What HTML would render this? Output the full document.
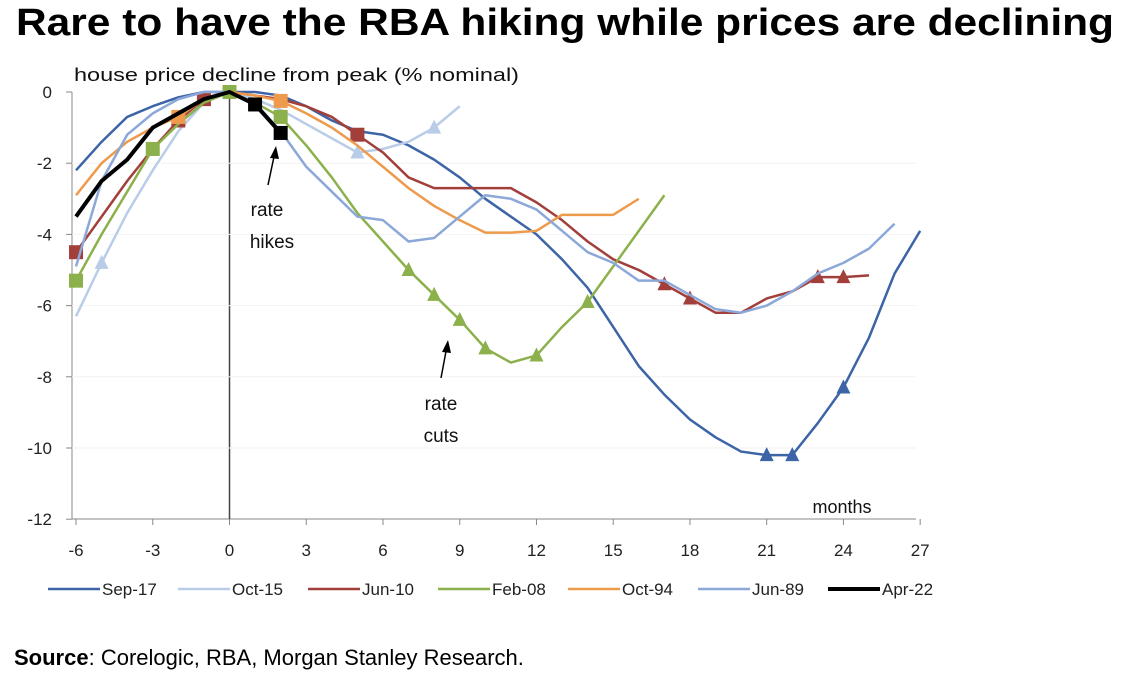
<!DOCTYPE html>
<html><head><meta charset="utf-8"><style>
body{margin:0;background:#fff;width:1136px;height:686px;overflow:hidden;font-family:"Liberation Sans",sans-serif}
#title{position:absolute;left:16px;top:2px;font-size:38px;font-weight:bold;color:#000;white-space:nowrap;transform-origin:0 0}
#src{position:absolute;left:14px;top:645px;font-size:22px;color:#000}
svg{position:absolute;left:0;top:0}
</style></head><body>
<div id="title">Rare to have the RBA hiking while prices are declining</div>
<div id="src"><b>Source</b>: Corelogic, RBA, Morgan Stanley Research.</div>
<svg id="c" width="1136" height="686"></svg>
<script>
const months=[-6,-5,-4,-3,-2,-1,0,1,2,3,4,5,6,7,8,9,10,11,12,13,14,15,16,17,18,19,20,21,22,23,24,25,26,27];
const xTicks=[-6,-3,0,3,6,9,12,15,18,21,24,27];
const yTicks=[0,-2,-4,-6,-8,-10,-12];
const sep17=[-2.2,-1.4,-0.7,-0.4,-0.15,0,0,0,-0.1,-0.4,-0.8,-1.1,-1.2,-1.5,-1.9,-2.4,-3.0,-3.5,-4.0,-4.7,-5.5,-6.6,-7.7,-8.5,-9.2,-9.7,-10.1,-10.2,-10.2,-9.3,-8.3,-6.9,-5.1,-3.9];
const oct15=[-6.3,-4.8,-3.4,-2.2,-1.1,-0.3,0,-0.2,-0.5,-0.9,-1.3,-1.7,-1.6,-1.4,-1.0,-0.4];
const jun10=[-4.5,-3.5,-2.5,-1.6,-0.8,-0.2,0,-0.1,-0.2,-0.4,-0.7,-1.2,-1.7,-2.4,-2.7,-2.7,-2.7,-2.7,-3.1,-3.6,-4.2,-4.7,-5.0,-5.4,-5.8,-6.2,-6.2,-5.8,-5.6,-5.2,-5.2,-5.15];
const feb08=[-5.3,-4.0,-2.8,-1.6,-0.9,-0.3,0,-0.3,-0.7,-1.5,-2.4,-3.4,-4.2,-5.0,-5.7,-6.4,-7.2,-7.6,-7.4,-6.6,-5.9,-4.9,-3.9,-2.9];
const oct94=[-2.9,-2.0,-1.4,-1.0,-0.7,-0.2,0,-0.1,-0.25,-0.6,-1.0,-1.5,-2.1,-2.7,-3.2,-3.6,-3.95,-3.95,-3.9,-3.45,-3.45,-3.45,-3.0];
const jun89=[-4.9,-2.5,-1.2,-0.6,-0.2,0,0,-0.3,-1.1,-2.1,-2.8,-3.5,-3.6,-4.2,-4.1,-3.5,-2.9,-3.0,-3.3,-3.9,-4.5,-4.8,-5.3,-5.3,-5.7,-6.1,-6.2,-6.0,-5.6,-5.1,-4.8,-4.4,-3.7];
const apr22=[-3.5,-2.5,-1.9,-1.0,-0.6,-0.2,0,-0.35,-1.15];
const series=[
 {name:"Sep-17",data:sep17,color:"#3C64A6",w:2.5,mk:"tri",at:[21,22,24]},
 {name:"Oct-15",data:oct15,color:"#B9CCE8",w:2.5,mk:"tri",at:[-5,5,8]},
 {name:"Jun-10",data:jun10,color:"#A23F3B",w:2.5,mk:"sq",at:[-6,-2,-1,5],mk2:"tri",at2:[17,18,23,24]},
 {name:"Feb-08",data:feb08,color:"#8CB04B",w:2.5,mk:"sq",at:[-6,-3,0,2],mk2:"tri",at2:[7,8,9,10,12,14]},
 {name:"Oct-94",data:oct94,color:"#EE9A4D",w:2.5,mk:"sq",at:[-2,2]},
 {name:"Jun-89",data:jun89,color:"#8CA8D8",w:2.5},
 {name:"Apr-22",data:apr22,color:"#000000",w:4,mk:"sq",at:[1,2]}
];
const title=document.getElementById('title');
title.style.transform='scaleX('+(1098/title.getBoundingClientRect().width)+')';
const X=m=>229.5+25.58*m, Y=v=>92-35.6*v;
const svg=document.getElementById('c'),NS="http://www.w3.org/2000/svg";
function mk(t,a,p){const e=document.createElementNS(NS,t);for(const k in a)e.setAttribute(k,a[k]);(p||svg).appendChild(e);return e;}
const ax=mk('line',{x1:72,y1:92,x2:72,y2:519,stroke:'#888'});

const xa=mk('line',{x1:72,y1:519,x2:916,y2:519,stroke:'#888'});

const zl=mk('line',{x1:X(0),y1:92,x2:X(0),y2:519,stroke:'#444','stroke-width':1.5});

yTicks.forEach(v=>{mk('line',{x1:66,y1:Y(v),x2:72,y2:Y(v),stroke:'#888'});
 if(v<0&&v>-12)mk('line',{x1:72,y1:Y(v),x2:916,y2:Y(v),stroke:'#f2f2f2'});
 const t=mk('text',{x:52,y:Y(v)+6,'text-anchor':'end','font-size':17,fill:'#222'});t.textContent=v;
 });
xTicks.forEach(m=>{mk('line',{x1:X(m),y1:519,x2:X(m),y2:525,stroke:'#888'});
 const t=mk('text',{x:X(m),y:556,'text-anchor':'middle','font-size':17,fill:'#222'});t.textContent=m;
 });
function marker(type,x,y,c){if(type==='sq')return mk('rect',{x:x-7,y:y-7,width:14,height:14,fill:c});
 return mk('polygon',{points:`${x},${y-8} ${x-7},${y+6} ${x+7},${y+6}`,fill:c});}
series.forEach(s=>{
 const pts=s.data.map((v,i)=>X(months[i])+','+Y(v)).join(' ');
 const p=mk('polyline',{points:pts,fill:'none',stroke:s.color,'stroke-width':s.w,'stroke-linejoin':'round'});
 
 
 [[s.mk,s.at],[s.mk2,s.at2]].forEach(([t,a])=>{if(!t)return;a.forEach(m=>{
  const i=months.indexOf(m);const e=marker(t,X(m),Y(s.data[i]),s.color);
  
  });});
});
function txt(s,x,y,sz,name,anchor){const t=mk('text',{x:x,y:y,'font-size':sz,fill:'#111','text-anchor':anchor||'start'});t.textContent=s;
 return t;}
const yt=txt('house price decline from peak (% nominal)',74,81,18,'y-axis-title');
yt.setAttribute('textLength',445);yt.setAttribute('lengthAdjust','spacingAndGlyphs');
txt('months',842,513,18,'x-axis-title','middle');
txt('rate',267,216,19,'annotation-rate-hikes','middle');txt('hikes',272,248,19,'annotation-rate-hikes','middle');
txt('rate',441,410,19,'annotation-rate-cuts','middle');txt('cuts',441,442,19,'annotation-rate-cuts','middle');
mk('line',{x1:268,y1:185,x2:275,y2:152,stroke:'#000','stroke-width':1.5});
mk('polygon',{points:'276,146 270,158 279,159',fill:'#000'});
mk('line',{x1:441,y1:378,x2:447,y2:346,stroke:'#000','stroke-width':1.5});
mk('polygon',{points:'448,340 442,352 451,353',fill:'#000'});
series.forEach((s,i)=>{
 const x0=48+130*i;
 const g=mk('g',{});
 mk('line',{x1:x0,y1:589,x2:x0+52,y2:589,stroke:s.color,'stroke-width':s.w},g);
 const t=mk('text',{x:x0+54,y:595,'font-size':17,fill:'#222'},g);t.textContent=s.name;
});
</script>
</body></html>
